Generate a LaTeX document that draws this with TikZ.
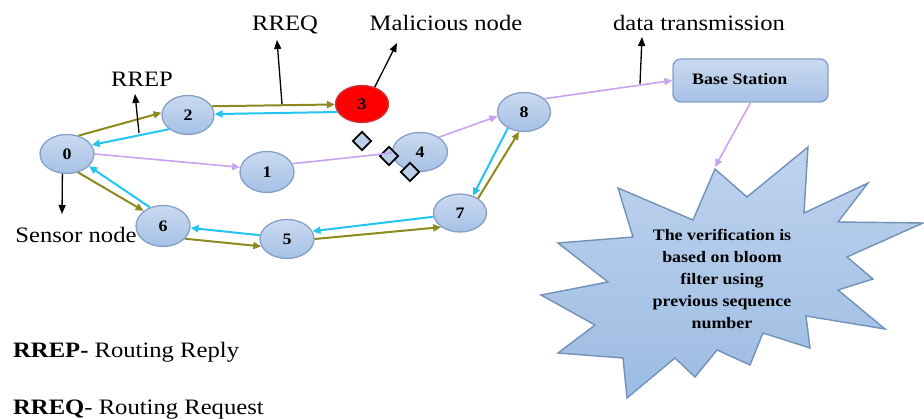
\documentclass[tikz,border=0pt]{standalone}
\usepackage{fontspec}
\setmainfont{Liberation Serif}[FakeStretch=1.12]
\usetikzlibrary{arrows.meta,shapes.geometric}
\definecolor{olivec}{HTML}{8C8A1E}
\definecolor{cyanc}{HTML}{22C4F0}
\definecolor{purc}{HTML}{C9A2F2}
\definecolor{nodetop}{HTML}{CADAF0}
\definecolor{nodebot}{HTML}{A6C1E5}
\definecolor{nodeedge}{HTML}{859FC8}
\definecolor{startop}{HTML}{BED3EE}
\definecolor{starbot}{HTML}{9CBCE2}
\definecolor{staredge}{HTML}{7390B8}
\definecolor{diafill}{HTML}{BBD0EA}
\tikzset{
  wsn/.style={ellipse, draw=nodeedge, line width=1.3pt, top color=nodetop, bottom color=nodebot,
    minimum width=54pt, minimum height=39pt, inner sep=0pt, font=\fontsize{16}{18}\selectfont\bfseries},
  malnode/.style={wsn, top color=red, bottom color=red, fill=red, draw=red!55!gray},
  dia/.style={diamond, draw=black, line width=1.8pt, fill=diafill, minimum width=19pt, minimum height=19pt, inner sep=0pt},
  tip/.style={-{Triangle[length=8pt,width=7pt]}},
  req/.style={tip, draw=olivec, line width=2pt},
  rep/.style={tip, draw=cyanc, line width=2pt},
  dat/.style={tip, draw=purc, line width=1.6pt},
  datline/.style={draw=purc, line width=1.6pt},
  ann/.style={-{Triangle[length=9pt,width=7pt]}, draw=black, line width=1.3pt},
  lbl/.style={font=\fontsize{22}{26}\selectfont, inner sep=0pt, anchor=base},
  leg/.style={font=\fontsize{22}{26}\selectfont, inner sep=0pt, anchor=base west},
}
\begin{document}
\begin{tikzpicture}[x=1pt,y=-1pt]
\useasboundingbox (0,0) rectangle (924,419);

% starburst
\draw[draw=staredge, line width=1.4pt, top color=startop, bottom color=starbot, line join=miter]
 (715,169) -- (747,197) -- (808,147) -- (804,213) -- (868,183) -- (838,222) -- (923,223)
 -- (847,257) -- (873,279) -- (838,290) -- (885,329) -- (806,316) -- (810,348) -- (763,333)
 -- (750,365) -- (717,350) -- (695,377) -- (675,358) -- (627,398) -- (623,358) -- (558,353)
 -- (595,325) -- (541,295) -- (608,282) -- (558,243) -- (633,237) -- (618,188) -- (693,220) -- cycle;
\coordinate (startip) at (715,167);
\node[align=center, font=\fontsize{16}{22}\selectfont\bfseries, inner sep=0pt] (startext) at (722,279)
 {The verification is\\based on bloom\\filter using\\previous sequence\\number};

% base station
\node[draw=nodeedge, line width=1.4pt, rounded corners=8pt, top color=nodetop, bottom color=nodebot,
  minimum width=155pt, minimum height=43pt, inner sep=0pt] (bs) at (750.5,80.5) {};
\node[font=\fontsize{16}{18}\selectfont\bfseries, anchor=west, inner sep=0pt] (bstext) at (692,79) {Base Station};

% sensor nodes
\node[wsn] (n0) at (67,154) {0};
\node[wsn, minimum width=52pt] (n2) at (188,115) {2};
\node[malnode, minimum width=53pt, minimum height=37pt] (n3) at (362,104) {3};
\node[wsn, minimum height=41pt] (n1) at (267,172) {1};
\node[wsn, minimum width=55pt] (n4) at (420,152) {4};
\node[wsn, minimum height=41pt] (n6) at (163,226) {6};
\node[wsn] (n5) at (287,239) {5};
\node[wsn, minimum width=53pt, minimum height=38pt] (n7) at (460,213) {7};
\node[wsn, minimum width=53pt] (n8) at (524,112) {8};

% diamonds
\node[dia] (d1) at (362,141) {};
\node[dia] (d2) at (389,156) {};
\node[dia] (d3) at (410,172) {};

% connectors
\draw[req] (n0.58) -- (n2.175);
\draw[rep] (n2.217) -- (n0.20);
\draw[req] (n2.20) -- (n3.181);
\draw[rep] (n3.198) -- (n2.2);
\draw[dat] (n0.0) -- (n1.170);
\draw[datline] (n1.18) -- (n4.182);
\draw[dat] (n4.38) -- (n8.189);
\draw[req] (n0.301) -- (n6.142);
\draw[rep] (n6.125) -- (n0.331);
\draw[req] (n6.330) -- (n5.196);
\draw[rep] (n5.172) -- (n6.356);
\draw[req] (n5.0) -- (n7.217);
\draw[rep] (n7.188) -- (n5.17);
\draw[req] (n7.39) -- (n8.256);
\draw[rep] (n8.225) -- (n7.53);
\draw[dat] (n8.33) -- (bs.west);
\draw[dat] (bs.south) -- (startip);

% annotations
\coordinate (rrepfoot) at (139,133);
\coordinate (rreptip) at (135,94);
\draw[ann] (rrepfoot) -- (rreptip);
\node[lbl] (rreplbl) at (142,87) {RREP};

\coordinate (rreqfoot) at (282,104);
\coordinate (rreqtip) at (277,40);
\draw[ann] (rreqfoot) -- (rreqtip);
\node[lbl] (rreqlbl) at (285,31) {RREQ};

\coordinate (maltip) at (397,43);
\draw[ann] (n3.53) -- (maltip);
\node[lbl] (mallbl) at (446,31) {Malicious node};

\coordinate (datfoot) at (640,84);
\coordinate (dattip) at (642,37);
\draw[ann] (datfoot) -- (dattip);
\node[lbl] (datlbl) at (699,31) {data transmission};

\coordinate (sentip) at (62,214);
\draw[ann] (n0.257) -- (sentip);
\node[lbl] (senlbl) at (76,243) {Sensor node};

% legend
\node[leg] (leg1) at (13,358) {\textbf{RREP-} Routing Reply};
\node[leg] (leg2) at (13,415) {\textbf{RREQ}- Routing Request};
\end{tikzpicture}
\end{document}
